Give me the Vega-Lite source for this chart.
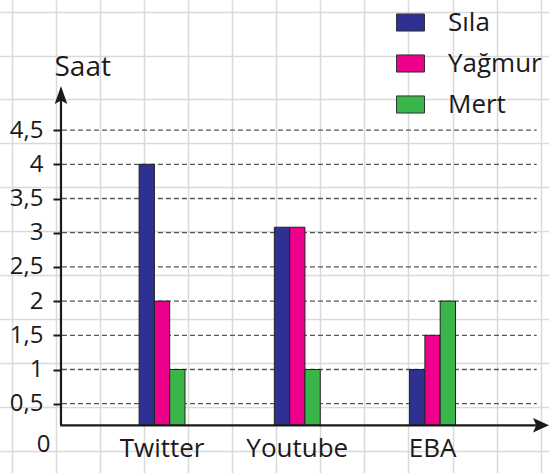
{
  "$schema": "https://vega.github.io/schema/vega-lite/v6.json",
  "width": 549,
  "height": 473,
  "autosize": {"type": "none"},
  "padding": 0,
  "background": "white",
  "config": {"view": {"stroke": null}, "font": "Open Sans"},
  "layer": [
    {
      "data": {"values": [{}]},
      "mark": {"type": "point", "opacity": 0},
      "encoding": {
        "x": {"datum": 0, "type": "quantitative",
          "scale": {"domain": [-0.2654, 12.189], "nice": false, "zero": false},
          "axis": {"values": [0,1,2,3,4,5,6,7,8,9,10,11,12], "grid": true, "gridColor": "#d9d9d9", "gridWidth": 1.5, "domain": false, "ticks": false, "labels": false, "title": null}},
        "y": {"datum": 0, "type": "quantitative",
          "scale": {"domain": [-0.2665, 10.508], "reverse": true, "nice": false, "zero": false},
          "axis": {"values": [0,1,2,3,4,5,6,7,8,9,10], "grid": true, "gridColor": "#d9d9d9", "gridWidth": 1.5, "domain": false, "ticks": false, "labels": false, "title": null}}
      }
    },
    {
      "data": {"values": [{"v": 0.5}, {"v": 1}, {"v": 1.5}, {"v": 2}, {"v": 2.5}, {"v": 3}, {"v": 3.5}, {"v": 4}, {"v": 4.5}]},
      "mark": {"type": "rule", "strokeDash": [5, 3], "color": "#555555", "strokeWidth": 1.3},
      "encoding": {
        "x": {"datum": 1.14, "type": "quantitative", "scale": {"domain": [-0.2654, 12.189], "nice": false, "zero": false}, "axis": null},
        "x2": {"datum": 11.91},
        "y": {"field": "v", "type": "quantitative", "scale": {"domain": [-0.513, 6.402], "nice": false, "zero": false}, "axis": null}
      }
    },
    {
      "data": {"values": [
        {"platform": "Twitter", "person": "Sıla", "saat": 4},
        {"platform": "Twitter", "person": "Yağmur", "saat": 2},
        {"platform": "Twitter", "person": "Mert", "saat": 1},
        {"platform": "Youtube", "person": "Sıla", "saat": 3.08},
        {"platform": "Youtube", "person": "Yağmur", "saat": 3.08},
        {"platform": "Youtube", "person": "Mert", "saat": 1},
        {"platform": "EBA", "person": "Sıla", "saat": 1},
        {"platform": "EBA", "person": "Yağmur", "saat": 1.5},
        {"platform": "EBA", "person": "Mert", "saat": 2}
      ]},
      "mark": {"type": "bar", "stroke": "#222222", "strokeWidth": 1},
      "encoding": {
        "x": {"field": "platform", "type": "nominal",
          "scale": {"domain": ["Twitter", "Youtube", "EBA"], "paddingInner": 0.6606, "paddingOuter": 0.86, "align": 0.598},
          "axis": {"orient": "bottom", "offset": -47, "domain": false, "ticks": false, "grid": false, "labelAngle": 0, "labelFontSize": 26, "labelColor": "#1a1a1a", "labelPadding": 9, "title": null}},
        "xOffset": {"field": "person", "type": "nominal", "scale": {"domain": ["Sıla", "Yağmur", "Mert"], "paddingInner": 0, "paddingOuter": 0}},
        "y": {"field": "saat", "type": "quantitative",
          "scale": {"domain": [-0.513, 6.402], "nice": false, "zero": false},
          "axis": {"orient": "left", "offset": -61, "values": [0.184, 0.5, 1, 1.5, 2, 2.5, 3, 3.5, 4, 4.5], "grid": false, "domain": false,
            "tickSize": 8, "tickWidth": 2, "tickColor": "#1a1a1a",
            "tickOpacity": {"condition": {"test": "datum.value < 0.3", "value": 0}, "value": 1},
            "labelExpr": "datum.value < 0.3 ? '0' : replace(format(datum.value, '~g'), '.', ',')",
            "labelAlign": {"condition": {"test": "datum.value < 0.3", "value": "center"}, "value": "right"},
            "labelOffset": {"condition": {"test": "datum.value < 0.3", "value": 19}, "value": 0},
            "labelFontSize": 24, "labelColor": "#1a1a1a", "labelPadding": 10,
            "title": "Saat", "titleAngle": 0, "titleX": -7, "titleY": 67, "titleAlign": "left", "titleBaseline": "middle",
            "titleFontSize": 28, "titleFontWeight": "normal", "titleColor": "#1a1a1a"}},
        "y2": {"datum": 0.184},
        "color": {"field": "person", "type": "nominal",
          "scale": {"domain": ["Sıla", "Yağmur", "Mert"], "range": ["#2e3192", "#ec008c", "#39b54a"]},
          "legend": {"orient": "none", "legendX": 396, "legendY": 8, "title": null, "padding": 0,
            "symbolType": "M-1,-0.61H1V0.61H-1Z", "symbolSize": 784, "symbolStrokeColor": "#333333", "symbolStrokeWidth": 1, "symbolOpacity": 1,
            "labelFontSize": 26, "labelOffset": 23, "rowPadding": 13, "labelColor": "#1a1a1a"}}
      }
    },
    {
      "data": {"values": [{}]},
      "mark": {"type": "rule", "color": "#1a1a1a", "strokeWidth": 2.2},
      "encoding": {
        "x": {"datum": 1.118, "type": "quantitative", "scale": {"domain": [-0.2654, 12.189], "nice": false, "zero": false}, "axis": null},
        "y": {"datum": 0.184, "type": "quantitative", "scale": {"domain": [-0.513, 6.402], "nice": false, "zero": false}, "axis": null},
        "y2": {"datum": 5.05}
      }
    },
    {
      "data": {"values": [{}]},
      "mark": {"type": "rule", "color": "#1a1a1a", "strokeWidth": 2.2},
      "encoding": {
        "x": {"datum": 1.1, "type": "quantitative", "scale": {"domain": [-0.2654, 12.189], "nice": false, "zero": false}, "axis": null},
        "x2": {"datum": 12.0},
        "y": {"datum": 0.184, "type": "quantitative", "scale": {"domain": [-0.513, 6.402], "nice": false, "zero": false}, "axis": null}
      }
    },
    {
      "data": {"values": [{}]},
      "mark": {"type": "point", "filled": true, "color": "#1a1a1a", "opacity": 1, "size": 324, "shape": "M0,-1L0.7,1L0,0.6L-0.7,1Z"},
      "encoding": {
        "x": {"datum": 1.118, "type": "quantitative", "scale": {"domain": [-0.2654, 12.189], "nice": false, "zero": false}, "axis": null},
        "y": {"datum": 5.013, "type": "quantitative", "scale": {"domain": [-0.513, 6.402], "nice": false, "zero": false}, "axis": null}
      }
    },
    {
      "data": {"values": [{}]},
      "mark": {"type": "point", "filled": true, "color": "#1a1a1a", "opacity": 1, "size": 256, "shape": "M1,0L-1,-0.9L-0.6,0L-1,0.9Z"},
      "encoding": {
        "x": {"datum": 12.008, "type": "quantitative", "scale": {"domain": [-0.2654, 12.189], "nice": false, "zero": false}, "axis": null},
        "y": {"datum": 0.184, "type": "quantitative", "scale": {"domain": [-0.513, 6.402], "nice": false, "zero": false}, "axis": null}
      }
    }
  ],
  "resolve": {"scale": {"x": "independent", "y": "independent"}}
}
